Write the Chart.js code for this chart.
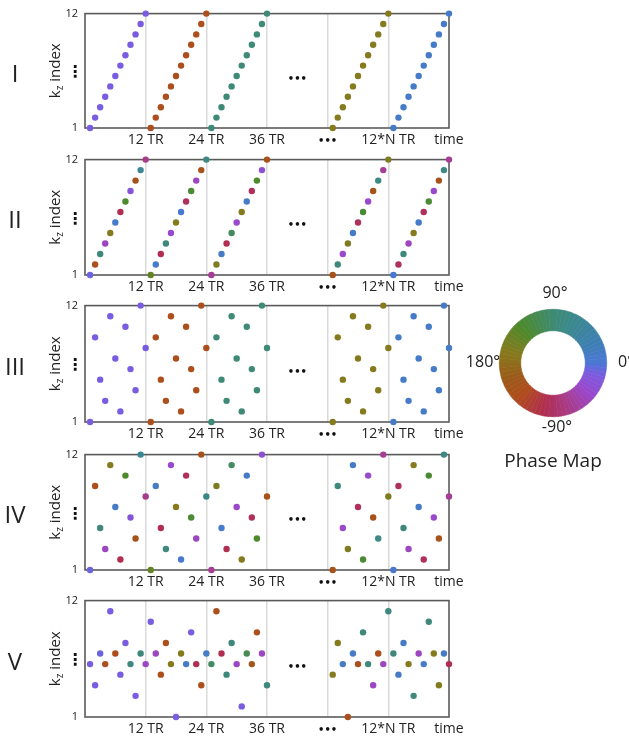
<!DOCTYPE html>
<html>
<head>
<meta charset="utf-8">
<script src="https://cdn.jsdelivr.net/npm/chart.js@4.4.0/dist/chart.umd.min.js"></script>
<style>
  body { margin: 0; background: #fff; width: 629px; height: 736px; position: relative; overflow: hidden; }
  canvas { position: absolute; }
</style>
</head>
<body>
<script>
// ---- data ----
const timeMax = 72;
const segmentStarts = [0, 12, 24, 48, 60];          // TR offset of each drawn block
const trInSegment = [1, 2, 3, 4, 5, 6, 7, 8, 9, 10, 11, 12];
const xTickValues = [12, 24, 36, 48, 60, 72];
const xTickLabels = ['12 TR', '24 TR', '36 TR', '', '12*N TR', 'time'];
const yTickValues = [1, 12];
const yTickLabels = ['1', '12'];
const panelNumerals = ['I', 'II', 'III', 'IV', 'V'];

// kz index order inside one block of 12 TR
const kzSequential = [1, 2, 3, 4, 5, 6, 7, 8, 9, 10, 11, 12];
const kzInterleaved = [1, 9, 5, 3, 11, 7, 2, 10, 6, 4, 12, 8];
const kzPanelV = [
  [6, 4, 7, 6, 11, 7, 5, 8, 6, 3, 7, 6],
  [10, 7, 5, 8, 6, 1, 7, 6, 9, 6, 4, 7],
  [6, 11, 7, 5, 8, 6, 2, 7, 6, 9, 7, 4],
  [5, 8, 6, 1, 7, 6, 9, 6, 4, 7, 6, 11],
  [7, 5, 8, 6, 3, 7, 6, 10, 7, 4, 7, 6]
];

// phase (degrees) of each point
const phasePerBlock = [345, 220, 85, 165, 10];       // panels I and III
const phaseByTR = [                                   // panels II and IV
  [350, 220, 80, 315, 165, 10, 260, 130, 335, 215, 55, 290],
  [145, 10, 260, 80, 320, 165, 5, 265, 125, 315, 215, 75],
  [295, 160, 10, 260, 100, 320, 165, 10, 265, 130, 330, 215],
  [215, 80, 320, 160, 10, 265, 125, 320, 215, 70, 295, 160],
  [5, 265, 80, 315, 165, 10, 265, 125, 320, 215, 70, 295]
];
const phasePanelV = [
  [345, 345, 350, 220, 345, 220, 345, 345, 80, 345, 80, 315],
  [345, 315, 220, 220, 165, 345, 165, 10, 345, 260, 220, 10],
  [100, 220, 260, 80, 80, 315, 345, 110, 205, 220, 315, 80],
  [165, 165, 10, 220, 10, 220, 80, 80, 315, 220, 315, 80],
  [80, 10, 10, 165, 80, 315, 10, 80, 165, 165, 10, 260]
];

// phase wheel colours
const wheelAnchors = [
  [0, '#4a78d4'], [30, '#3d80ae'], [60, '#3b8890'], [90, '#3f8a72'],
  [130, '#4c8a2c'], [165, '#857a1e'], [200, '#9c5a1a'], [225, '#b04c1c'],
  [260, '#b02e52'], [290, '#a83c8a'], [320, '#9a48cc'], [345, '#7a5ce0'],
  [360, '#4a78d4']
];

// ---- layout ----
const panelTops = [11, 157, 303, 452, 598];
const panelBottoms = [128, 275, 422, 570, 717];
const canvasWidth = 480;
const FONT = "'Open Sans', 'Liberation Sans', sans-serif";

function hexToRgb(h) {
  return [1, 3, 5].map(i => parseInt(h.substr(i, 2), 16));
}

function phaseColor(deg) {
  const p = ((deg % 360) + 360) % 360;
  for (let i = 0; i < wheelAnchors.length - 1; i++) {
    const [a0, c0] = wheelAnchors[i];
    const [a1, c1] = wheelAnchors[i + 1];
    if (p >= a0 && p <= a1) {
      const f = (p - a0) / (a1 - a0);
      const r0 = hexToRgb(c0), r1 = hexToRgb(c1);
      const c = r0.map((v, k) => Math.round(v + (r1[k] - v) * f));
      return `rgb(${c[0]},${c[1]},${c[2]})`;
    }
  }
  return wheelAnchors[0][1];
}

function buildPoints(kzBlocks, phaseBlocks) {
  const data = [];
  const colors = [];
  segmentStarts.forEach((start, s) => {
    trInSegment.forEach((tr, i) => {
      data.push({ x: start + tr, y: kzBlocks[s][i] });
      colors.push(phaseColor(phaseBlocks[s][i]));
    });
  });
  return { data, colors };
}

const panels = [
  buildPoints(segmentStarts.map(() => kzSequential), phasePerBlock.map(p => trInSegment.map(() => p))),
  buildPoints(segmentStarts.map(() => kzSequential), phaseByTR),
  buildPoints(segmentStarts.map(() => kzInterleaved), phasePerBlock.map(p => trInSegment.map(() => p))),
  buildPoints(segmentStarts.map(() => kzInterleaved), phaseByTR),
  buildPoints(kzPanelV, phasePanelV)
];

// frame, y title, roman numeral, ellipses
const panelDecor = {
  id: 'panelDecor',
  beforeDatasetsDraw(chart, args, opts) {
    const { ctx, chartArea: a, scales } = chart;
    ctx.save();
    ctx.strokeStyle = '#5a5a5a';
    ctx.lineWidth = 1.6;
    ctx.strokeRect(a.left, a.top, a.width, a.height);

    ctx.fillStyle = '#111';
    ctx.textAlign = 'center';
    ctx.textBaseline = 'middle';
    ctx.font = "bold 10px 'DejaVu Sans'";
    ctx.fillText('•••', scales.x.getPixelForValue(42), scales.y.getPixelForValue(5.7));
    // elided time block under the axis
    ctx.fillText('•••', scales.x.getPixelForValue(48), a.bottom + 13);

    // vertical ellipsis on the y axis
    ctx.font = "bold 16px 'DejaVu Sans'";
    ctx.fillText('⋮', 75, scales.y.getPixelForValue(6.3));

    const mid = (a.top + a.bottom) / 2;
    // roman numeral
    ctx.fillStyle = '#222';
    ctx.font = `24px ${FONT}`;
    ctx.fillText(opts.numeral, 15, mid + 4);

    // "kz index" with subscript
    ctx.translate(56, mid);
    ctx.rotate(-Math.PI / 2);
    ctx.textAlign = 'left';
    const big = `15px ${FONT}`, small = `10px ${FONT}`;
    ctx.font = big; const wk = ctx.measureText('k').width; const wi = ctx.measureText(' index').width;
    ctx.font = small; const wz = ctx.measureText('z').width;
    let x0 = -(wk + wz + wi) / 2;
    ctx.font = big; ctx.fillText('k', x0, 0);
    ctx.font = small; ctx.fillText('z', x0 + wk, 4);
    ctx.font = big; ctx.fillText(' index', x0 + wk + wz, 0);
    ctx.restore();
  }
};

panels.forEach((p, n) => {
  const canvas = document.createElement('canvas');
  const h = panelBottoms[n] - panelTops[n] + 11 + 22;
  canvas.width = canvasWidth;
  canvas.height = h;
  canvas.style.left = '0px';
  canvas.style.top = (panelTops[n] - 11) + 'px';
  document.body.appendChild(canvas);

  new Chart(canvas, {
    type: 'scatter',
    data: {
      datasets: [{
        data: p.data,
        backgroundColor: p.colors,
        borderWidth: 0,
        pointRadius: 3.2,
        clip: false
      }]
    },
    options: {
      responsive: false,
      animation: false,
      events: [],
      layout: { padding: { top: 11, right: canvasWidth - 449, left: 0, bottom: 0 } },
      plugins: {
        legend: { display: false },
        tooltip: { enabled: false },
        panelDecor: { numeral: panelNumerals[n] }
      },
      scales: {
        x: {
          type: 'linear',
          min: 0,
          max: timeMax,
          afterBuildTicks: axis => { axis.ticks = xTickValues.map(v => ({ value: v })); },
          afterFit: axis => { axis.height = 22; },
          border: { display: false },
          grid: {
            drawTicks: false,
            lineWidth: 1.5,
            color: c => (c.tick && c.tick.value < timeMax) ? '#d9d9d9' : 'rgba(0,0,0,0)'
          },
          ticks: {
            autoSkip: false,
            maxRotation: 0,
            padding: 4,
            color: '#222',
            callback: (v, i) => xTickLabels[i],
            font: { family: FONT, size: 14 }
          }
        },
        y: {
          min: 1,
          max: 12,
          afterBuildTicks: axis => { axis.ticks = yTickValues.map(v => ({ value: v })); },
          afterFit: axis => { axis.width = 85; },
          border: { display: false },
          grid: { display: false, drawTicks: false },
          ticks: {
            padding: 7,
            color: '#222',
            callback: (v, i) => yTickLabels[i],
            font: { family: FONT, size: 11 }
          }
        }
      }
    },
    plugins: [panelDecor]
  });
});

// ---- phase map ring ----
const wheelSlices = 72;
const wheelCanvas = document.createElement('canvas');
wheelCanvas.width = 169;
wheelCanvas.height = 200;
wheelCanvas.style.left = '460px';
wheelCanvas.style.top = '280px';
document.body.appendChild(wheelCanvas);

const sliceColors = [];
for (let i = 0; i < wheelSlices; i++) sliceColors.push(phaseColor(-(i + 0.5) * 360 / wheelSlices));

const wheelLabels = {
  id: 'wheelLabels',
  afterDraw(chart) {
    const { ctx } = chart;
    ctx.save();
    ctx.fillStyle = '#222';
    ctx.textBaseline = 'middle';
    ctx.font = `16px ${FONT}`;
    ctx.textAlign = 'center';
    ctx.fillText('90°', 95, 13);
    ctx.fillText('-90°', 97, 147);
    ctx.fillText('180°', 23, 82);
    ctx.textAlign = 'left';
    ctx.fillText('0°', 158, 82);
    ctx.textAlign = 'center';
    ctx.font = `19px ${FONT}`;
    ctx.fillText('Phase Map', 93, 182);
    ctx.restore();
  }
};

new Chart(wheelCanvas, {
  type: 'doughnut',
  data: {
    labels: sliceColors.map((c, i) => i),
    datasets: [{
      data: sliceColors.map(() => 1),
      backgroundColor: sliceColors,
      borderColor: sliceColors,
      borderWidth: 0.6
    }]
  },
  options: {
    responsive: false,
    animation: false,
    events: [],
    rotation: 90,
    cutout: '60%',
    layout: { padding: { left: 39, top: 29, right: 22, bottom: 63 } },
    plugins: { legend: { display: false }, tooltip: { enabled: false } }
  },
  plugins: [wheelLabels]
});
</script>
</body>
</html>
